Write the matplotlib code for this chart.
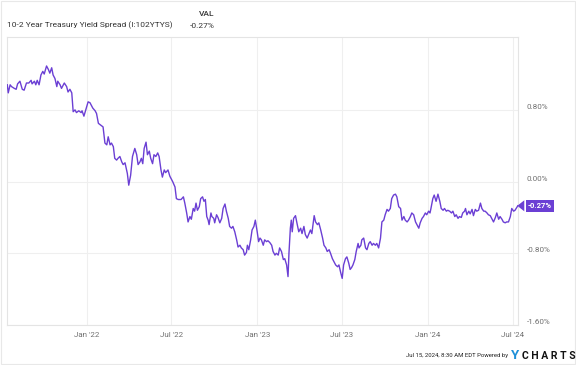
import numpy as np
import pandas as pd
import matplotlib
matplotlib.use("Agg")
import matplotlib.pyplot as plt
import matplotlib.dates as mdates
from matplotlib.patches import Polygon, Rectangle

plt.rcParams['font.family'] = ['Roboto', 'DejaVu Sans']

# days elapsed since 2021-07-15 and spread in percent
start = pd.Timestamp('2021-07-15')
days = [0, 2, 6, 9, 15, 19, 22, 27, 32, 36, 41, 46, 51, 53, 58, 61, 64, 68, 72, 76,
        79, 84, 88, 91, 95, 98, 102, 106, 108, 113, 116, 122, 127, 130, 134, 138, 141, 145, 148, 153,
        158, 160, 164, 168, 173, 177, 183, 188, 191, 195, 200, 205, 209, 213, 216, 220, 223, 227, 230, 234,
        237, 241, 245, 248, 252, 257, 260, 264, 268, 273, 277, 280, 284, 287, 290, 293, 297, 300, 304, 307,
        311, 314, 318, 322, 325, 329, 332, 336, 339, 344, 348, 354, 359, 362, 366, 369, 372, 377, 380, 384,
        387, 391, 394, 398, 401, 404, 407, 411, 414, 418, 421, 424, 427, 430, 432, 436, 438, 442, 444, 448,
        451, 455, 459, 462, 466, 469, 473, 476, 480, 483, 487, 491, 494, 498, 501, 505, 508, 512, 514, 517,
        521, 524, 528, 531, 535, 538, 541, 544, 548, 551, 555, 558, 562, 566, 569, 573, 576, 580, 583, 587,
        591, 594, 598, 601, 603, 606, 608, 610, 613, 617, 620, 624, 628, 631, 635, 638, 642, 645, 649, 652,
        657, 660, 664, 667, 671, 675, 678, 682, 685, 689, 692, 696, 699, 703, 707, 710, 714, 717, 720, 724,
        727, 731, 734, 737, 740, 744, 747, 751, 753, 757, 759, 763, 767, 770, 774, 777, 781, 784, 788, 791,
        795, 799, 802, 806, 809, 813, 816, 820, 823, 827, 831, 834, 838, 842, 845, 849, 852, 856, 859, 863,
        866, 870, 874, 877, 881, 884, 888, 891, 895, 898, 902, 905, 907, 911, 914, 918, 922, 926, 929, 933,
        936, 940, 943, 947, 951, 954, 958, 961, 965, 968, 972, 975, 979, 981, 984, 988, 991, 995, 998, 1002,
        1005, 1009, 1013, 1016, 1020, 1023, 1027, 1030, 1034, 1037, 1041, 1045, 1048, 1052, 1055, 1059, 1062, 1066, 1069, 1073,
        1077, 1080, 1084, 1087, 1093]
spread = [1.08, 0.99, 1.08, 1.06, 1.04, 1.03, 1.09, 1.12, 1.03, 1.02, 1.10, 1.10, 1.13, 1.09, 1.12, 1.08, 1.13, 1.08, 1.19, 1.23,
          1.20, 1.29, 1.25, 1.21, 1.27, 1.19, 1.15, 1.06, 1.12, 1.08, 1.04, 1.10, 1.06, 1.00, 1.03, 0.99, 0.78, 0.80, 0.77, 0.79,
          0.77, 0.79, 0.73, 0.80, 0.89, 0.88, 0.82, 0.79, 0.76, 0.65, 0.63, 0.61, 0.43, 0.41, 0.50, 0.41, 0.43, 0.39, 0.26, 0.24,
          0.26, 0.28, 0.22, 0.19, 0.21, 0.09, -0.04, 0.07, 0.28, 0.37, 0.30, 0.19, 0.22, 0.26, 0.20, 0.37, 0.44, 0.30, 0.34, 0.26,
          0.20, 0.30, 0.28, 0.32, 0.28, 0.13, 0.05, 0.13, 0.10, 0.13, 0.06, 0.00, -0.06, -0.19, -0.20, -0.20, -0.20, -0.17, -0.24, -0.35,
          -0.45, -0.39, -0.42, -0.30, -0.33, -0.24, -0.32, -0.28, -0.19, -0.17, -0.22, -0.20, -0.39, -0.43, -0.48, -0.35, -0.39, -0.41, -0.46, -0.37,
          -0.40, -0.46, -0.41, -0.30, -0.25, -0.33, -0.41, -0.50, -0.52, -0.50, -0.56, -0.65, -0.73, -0.71, -0.74, -0.76, -0.82, -0.79, -0.71, -0.76,
          -0.65, -0.54, -0.50, -0.43, -0.56, -0.67, -0.63, -0.65, -0.71, -0.65, -0.67, -0.66, -0.68, -0.71, -0.78, -0.82, -0.80, -0.82, -0.74, -0.78,
          -0.87, -0.86, -0.93, -1.06, -0.80, -0.52, -0.43, -0.56, -0.41, -0.38, -0.46, -0.56, -0.52, -0.58, -0.50, -0.59, -0.63, -0.59, -0.54, -0.58,
          -0.38, -0.45, -0.48, -0.46, -0.54, -0.63, -0.71, -0.74, -0.78, -0.76, -0.80, -0.86, -0.89, -0.93, -0.95, -0.93, -1.02, -1.08, -0.93, -0.86,
          -0.84, -0.91, -0.98, -0.96, -0.93, -0.87, -0.78, -0.69, -0.74, -0.71, -0.65, -0.63, -0.74, -0.76, -0.69, -0.67, -0.71, -0.69, -0.71, -0.69,
          -0.74, -0.63, -0.45, -0.43, -0.37, -0.31, -0.33, -0.30, -0.19, -0.15, -0.14, -0.17, -0.28, -0.30, -0.43, -0.39, -0.43, -0.45, -0.43, -0.39,
          -0.35, -0.37, -0.45, -0.48, -0.52, -0.46, -0.41, -0.39, -0.35, -0.37, -0.33, -0.35, -0.30, -0.19, -0.15, -0.22, -0.14, -0.22, -0.30, -0.32,
          -0.30, -0.33, -0.32, -0.33, -0.35, -0.33, -0.39, -0.37, -0.41, -0.39, -0.40, -0.35, -0.33, -0.30, -0.37, -0.33, -0.36, -0.31, -0.38, -0.31,
          -0.33, -0.32, -0.24, -0.30, -0.33, -0.33, -0.35, -0.37, -0.38, -0.41, -0.45, -0.40, -0.35, -0.42, -0.39, -0.42, -0.45, -0.46, -0.45, -0.45,
          -0.39, -0.30, -0.33, -0.32, -0.27]
ytick_vals = [-1.6, -0.8, 0.0, 0.8]
ytick_labels = ['-1.60%', '-0.80%', '0.00%', '0.80%']
xtick_dates = ['2022-01-01', '2022-07-01', '2023-01-01', '2023-07-01', '2024-01-01', '2024-07-01']
xtick_labels = ["Jan '22", "Jul '22", "Jan '23", "Jul '23", "Jan '24", "Jul '24"]
last_val = '-0.27%'

dates = start + pd.to_timedelta(days, unit='D')
line_col = '#6b3fd4'

fig = plt.figure(figsize=(5.76, 3.65), dpi=100)
ax = fig.add_axes([0.0127, 0.1096, 0.8871, 0.7882])

ax.plot(dates, spread, color=line_col, lw=1.0, zorder=3)

ax.set_xlim(start, start + pd.Timedelta(days=1094))
ax.set_ylim(-1.6, 1.61)

ax.set_yticks(ytick_vals)
ax.set_yticklabels(ytick_labels)
ax.yaxis.tick_right()
ax.set_xticks(pd.to_datetime(xtick_dates))
ax.set_xticklabels(xtick_labels)
ax.tick_params(axis='both', length=0, labelsize=5.8, labelcolor='#707070')
ax.tick_params(axis='y', pad=6)
ax.tick_params(axis='x', pad=5)
for t in ax.get_yticklabels():
    t.set_va('bottom')
ax.grid(True, color='#efefef', lw=0.8)
for s in ax.spines.values():
    s.set_color('#e4e4e4')
    s.set_linewidth(0.8)

# last value badge
lx = mdates.date2num(dates[-1])
ax.annotate(last_val, xy=(1.0, spread[-1]), xycoords=('axes fraction', 'data'),
            xytext=(7, 0), textcoords='offset points', ha='left', va='center',
            fontsize=5.5, color='white', fontweight='bold', annotation_clip=False,
            bbox=dict(boxstyle='square,pad=0.3', fc=line_col, ec='none'), zorder=5)
y_px = ax.transData.transform((lx, spread[-1]))[1]
x0 = ax.transAxes.transform((1.0, 0))[0]
tri = Polygon([(x0 - 1, y_px), (x0 + 6, y_px + 5.5), (x0 + 6, y_px - 5.5)], closed=True,
              transform=None, fc=line_col, ec='none', zorder=5)
fig.patches.append(tri)

# header
fig.text(0.0127, 0.930, '10-2 Year Treasury Yield Spread (I:102YTYS)', fontsize=6,
         color='#333333', va='center', ha='left')
fig.text(0.373, 0.962, 'VAL', fontsize=6, color='#333333', va='center', ha='right',
         fontweight='medium')
fig.text(0.373, 0.930, last_val, fontsize=6, color='#333333', va='center', ha='right')

# footer
fig.text(0.882, 0.025, 'Jul 15, 2024, 8:30 AM EDT Powered by', fontsize=4.3,
         color='#222222', ha='right', va='center')
fig.text(0.887, 0.025, 'Y', fontsize=9.5, color='#1e90d8', ha='left', va='center',
         fontweight='bold')
fig.text(0.906, 0.025, 'C H A R T S', fontsize=7.5, color='#111111', ha='left', va='center',
         fontweight='bold')

# outer frame
fig.patches.append(Rectangle((0.001, 0.002), 0.997, 0.995, transform=fig.transFigure,
                             fill=False, ec='#e8e8e8', lw=0.8))

fig.savefig('out.png', dpi=100)
